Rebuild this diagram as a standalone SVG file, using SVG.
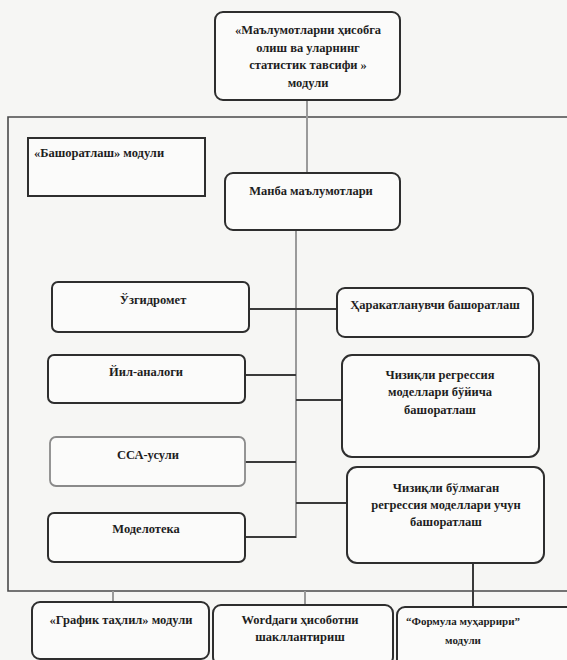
<svg xmlns="http://www.w3.org/2000/svg" width="567" height="660" viewBox="0 0 567 660">
<style>
.box{fill:#fbfbfa;stroke:#2e2e2e;stroke-width:2}
.lbox{fill:#fbfbfa;stroke:#8a8a8a;stroke-width:1.8}
.t{font-family:"Liberation Serif","Times New Roman",serif;font-size:12.5px;fill:#1e1e1e;text-anchor:middle;font-weight:bold}
.s{font-size:11px}
.c{fill:none;stroke:#3a3a3a;stroke-width:2}
.g{fill:none;stroke:#9a9a9a;stroke-width:2}
.frame{fill:none;stroke:#4a4a4a;stroke-width:1.6}
</style>
<rect x="0" y="0" width="567" height="660" fill="#f6f6f4"/>
<g id="frame"><path class="frame" d="M567 117 H8 V591 H567"/></g>
<g id="connectors">
<path class="g" d="M307 100 V173"/>
<path class="g" d="M296 230 V538"/>
<path class="c" d="M249 309 H337"/>
<path class="c" d="M245 375 H296"/>
<path class="c" d="M296 400 H342"/>
<path class="c" d="M245 462 H296"/>
<path class="c" d="M296 503 H347"/>
<path class="c" d="M245 537 H296"/>
<path class="c" d="M473 563 V607"/>
<path class="g" d="M113 591 V602" stroke-width="1.2"/>
<path class="g" d="M305 591 V605" stroke-width="1.2"/>
</g>
<g id="n-top"><rect class="box" x="215" y="12" width="185" height="88" rx="8"/>
<text class="t" x="308" y="34">«Маълумотларни ҳисобга</text>
<text class="t" x="308" y="52">олиш ва уларнинг</text>
<text class="t" x="308" y="69">статистик тавсифи »</text>
<text class="t" x="308" y="87">модули</text></g>
<g id="n-bashorat"><rect class="box" x="28" y="138" width="177" height="58"/>
<text class="t" x="99" y="157">«Башоратлаш» модули</text></g>
<g id="n-manba"><rect class="box" x="225" y="173" width="175" height="57" rx="8"/>
<text class="t" x="311" y="195">Манба маълумотлари</text></g>
<g id="n-uzgidromet"><rect class="box" x="52" y="282" width="197" height="50" rx="6"/>
<text class="t" x="153" y="304">Ўзгидромет</text></g>
<g id="n-yil"><rect class="box" x="48" y="355" width="197" height="48" rx="6"/>
<text class="t" x="146" y="376">Йил-аналоги</text></g>
<g id="n-cca"><rect class="lbox" x="50" y="437" width="195" height="49" rx="6"/>
<text class="t" x="148" y="459">ССА-усули</text></g>
<g id="n-model"><rect class="box" x="48" y="513" width="197" height="49" rx="6"/>
<text class="t" x="146" y="533">Моделотека</text></g>
<g id="n-harakat"><rect class="box" x="337" y="288" width="196" height="49" rx="8"/>
<text class="t" x="435" y="309">Ҳаракатланувчи башоратлаш</text></g>
<g id="n-chiziqli"><rect class="box" x="342" y="355" width="197" height="102" rx="10"/>
<text class="t" x="440" y="379">Чизиқли регрессия</text>
<text class="t" x="440" y="396">моделлари бўйича</text>
<text class="t" x="440" y="414">башоратлаш</text></g>
<g id="n-nochiziqli"><rect class="box" x="347" y="467" width="197" height="96" rx="10"/>
<text class="t" x="446" y="492">Чизиқли бўлмаган</text>
<text class="t" x="446" y="509">регрессия моделлари учун</text>
<text class="t" x="446" y="526">башоратлаш</text></g>
<g id="n-grafik"><rect class="box" x="32" y="602" width="177" height="57" rx="8"/>
<text class="t" x="121" y="624">«График таҳлил» модули</text></g>
<g id="n-word"><rect class="box" x="213" y="605" width="180" height="60" rx="8"/>
<text class="t" x="300" y="624">Wordдаги ҳисоботни</text>
<text class="t" x="300" y="641">шакллантириш</text></g>
<g id="n-formula"><rect class="box" x="397" y="607" width="180" height="60" rx="8"/>
<text class="t s" x="463" y="625">“Формула муҳаррири”</text>
<text class="t s" x="463" y="644">модули</text></g>
</svg>
